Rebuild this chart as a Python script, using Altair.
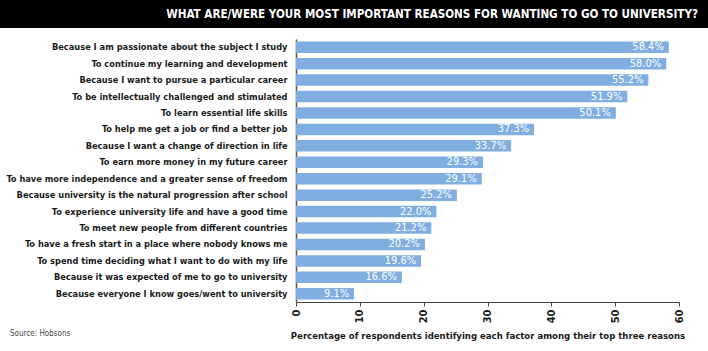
import altair as alt
import pandas as pd

reasons = [
    "Because I am passionate about the subject I study",
    "To continue my learning and development",
    "Because I want to pursue a particular career",
    "To be intellectually challenged and stimulated",
    "To learn essential life skills",
    "To help me get a job or find a better job",
    "Because I want a change of direction in life",
    "To earn more money in my future career",
    "To have more independence and a greater sense of freedom",
    "Because university is the natural progression after school",
    "To experience university life and have a good time",
    "To meet new people from different countries",
    "To have a fresh start in a place where nobody knows me",
    "To spend time deciding what I want to do with my life",
    "Because it was expected of me to go to university",
    "Because everyone I know goes/went to university",
]
values = [58.4, 58.0, 55.2, 51.9, 50.1, 37.3, 33.7, 29.3, 29.1, 25.2, 22.0, 21.2, 20.2, 19.6, 16.6, 9.1]
x_ticks = [0, 10, 20, 30, 40, 50, 60]

title_text = "WHAT ARE/WERE YOUR MOST IMPORTANT REASONS FOR WANTING TO GO TO UNIVERSITY?"
x_title = "Percentage of respondents identifying each factor among their top three reasons"
source_text = "Source: Hobsons"

df = pd.DataFrame({"reason": reasons, "value": values})
df["label"] = [f"{v:.1f}%" for v in values]

FONT = "DejaVu Sans Condensed"
W, H = 383, 263
PAD_L, PAD_T, PAD_R, PAD_B = 296, 39, 29, 49

y_enc = alt.Y(
    "reason:N",
    sort=None,
    scale=alt.Scale(paddingInner=0.3, paddingOuter=0.15),
    axis=alt.Axis(
        title=None,
        ticks=False,
        labelPadding=9,
        labelFont=FONT,
        labelFontWeight="bold",
        labelFontSize=9.2,
        labelColor="#1a1a1a",
        domainColor="#555555",
        domainWidth=1.5,
        labelLimit=400,
    ),
)

bars = alt.Chart(df).mark_bar(color="#80AEE0").encode(
    x=alt.X(
        "value:Q",
        scale=alt.Scale(domain=[0, 60], nice=False),
        axis=alt.Axis(
            values=x_ticks,
            title=x_title,
            titleFont=FONT,
            titleFontSize=9.5,
            titleFontWeight="bold",
            titleColor="#1a1a1a",
            titlePadding=8,
            labelAngle=270,
            labelAlign="right",
            labelBaseline="middle",
            labelFont=FONT,
            labelFontSize=11,
            labelFontWeight="bold",
            labelColor="#1a1a1a",
            labelPadding=3,
            grid=False,
            tickSize=4,
            tickColor="#444444",
            domainColor="#444444",
        ),
    ),
    y=y_enc,
)

labels = alt.Chart(df).mark_text(
    align="right", baseline="middle", dx=-5, color="white",
    font=FONT, fontSize=11,
).encode(x="value:Q", y=alt.Y("reason:N", sort=None), text="label:N")

one = alt.Data(values=[{"a": 1}])
title_bg = alt.Chart(one).mark_rect(color="black").encode(
    x=alt.value(-PAD_L), x2=alt.value(W + PAD_R), y=alt.value(-PAD_T), y2=alt.value(-PAD_T + 28)
)
title_tx = alt.Chart(one).mark_text(
    align="right", baseline="middle", color="white", font=FONT, fontWeight="bold", fontSize=11.6,
).encode(x=alt.value(W + PAD_R - 10), y=alt.value(-PAD_T + 15), text=alt.value(title_text))
source = alt.Chart(one).mark_text(
    align="left", baseline="middle", color="#444444", font=FONT, fontSize=8,
).encode(x=alt.value(-PAD_L + 10), y=alt.value(H + 32), text=alt.value(source_text))

chart = alt.layer(bars, labels, title_bg, title_tx, source).properties(
    width=W, height=H,
    autosize=alt.AutoSizeParams(type="none"),
    padding={"left": PAD_L, "top": PAD_T, "right": PAD_R, "bottom": PAD_B},
    background="white",
).configure_view(stroke=None)

chart.save("out.html", embed_options={"renderer": "svg", "actions": False})
